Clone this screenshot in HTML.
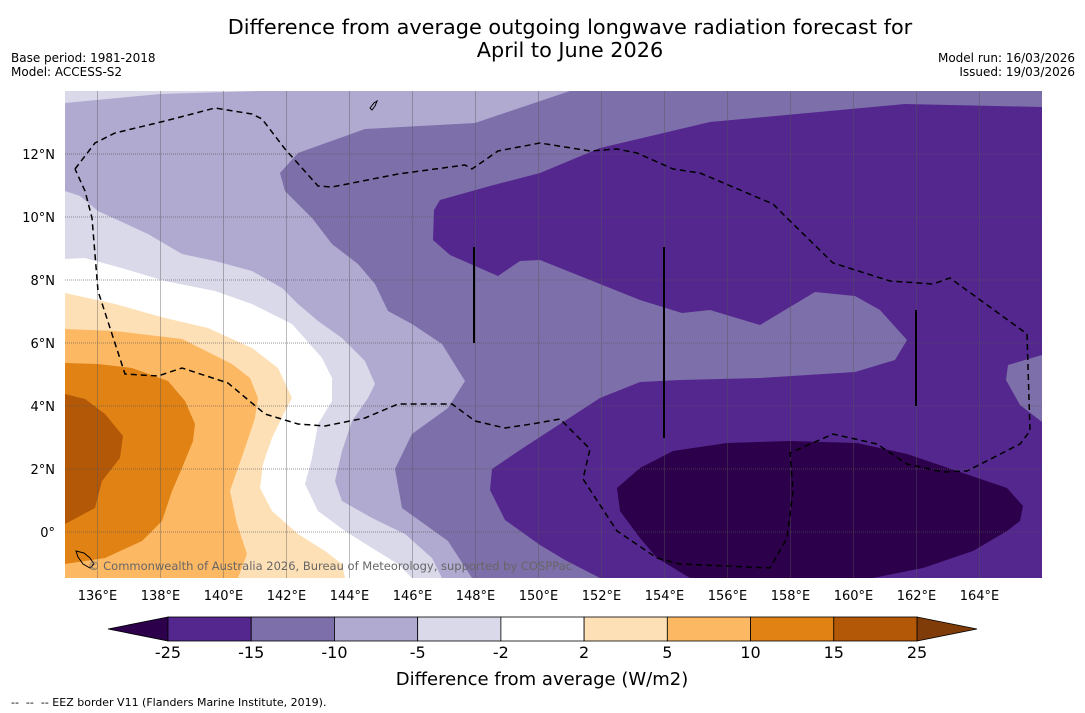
<!DOCTYPE html>
<html><head><meta charset="utf-8"><style>
body{margin:0;background:#fff;font-family:"Liberation Sans","DejaVu Sans",sans-serif;}
svg{display:block}
text{font-family:"DejaVu Sans","Liberation Sans",sans-serif;white-space:pre;}
</style></head><body>
<svg id="fig" width="1085" height="713" viewBox="0 0 1085 713">
<text x="570" y="34" font-size="20.8" text-anchor="middle">Difference from average outgoing longwave radiation forecast for</text>
<text x="570" y="57" font-size="20.8" text-anchor="middle">April to June 2026</text>
<text x="11" y="62" font-size="12">Base period: 1981-2018</text>
<text x="11" y="76" font-size="12">Model: ACCESS-S2</text>
<text x="1075" y="62" font-size="12" text-anchor="end">Model run: 16/03/2026</text>
<text x="1075" y="76" font-size="12" text-anchor="end">Issued: 19/03/2026</text>
<defs><clipPath id="mapclip"><rect x="65" y="91" width="977" height="487"/></clipPath></defs>
<g id="map" clip-path="url(#mapclip)">
<rect x="65" y="91" width="977" height="487" fill="#54278f"/>
<polygon fill="#7d6fa9" points="65,91 1042,91 1042,107 905,104 710,122 600,148 540,173 490,186 440,200 434,210 433,240 450,255 498,276 520,261 540,260 640,300 682,313 710,310 760,325 815,292 855,296 880,310 907,340 895,360 855,372 760,378 680,380 640,382 600,398 540,437 520,450 492,469 490,490 505,520 540,545 565,560 600,578 65,578"/>
<polygon fill="#7d6fa9" points="1042,355 1008,365 1006,380 1020,405 1042,422"/>
<polygon fill="#b0a9d0" points="65,91 570,91 475,123 365,129 298,153 280,173 285,191 312,218 332,244 358,264 375,284 388,311 412,324 442,344 465,381 448,408 412,434 395,469 402,508 448,541 472,578 65,578"/>
<polygon fill="#d9d9ea" points="65,91 260,91 160,94 65,103"/>
<polygon fill="#d9d9ea" points="65,191 80,196 98,211 148,234 182,254 215,261 252,271 282,288 298,304 318,321 342,338 365,361 375,384 368,398 352,421 342,451 335,481 342,501 372,518 405,534 432,558 442,578 65,578"/>
<polygon fill="#ffffff" points="65,259 85,258 125,269 165,281 215,291 252,304 292,324 322,358 332,378 332,401 318,424 312,458 305,484 318,511 345,531 372,548 398,564 412,578 65,578"/>
<polygon fill="#fee0b6" points="65,293 115,304 165,318 208,328 252,348 278,368 292,398 285,411 272,438 263,464 260,488 272,511 298,534 325,551 342,564 345,578 65,578"/>
<polygon fill="#fdb863" points="65,329 115,331 182,339 232,364 250,378 258,398 255,418 245,448 238,468 230,491 237,524 247,554 238,578 65,578"/>
<polygon fill="#e08214" points="65,363 98,364 132,368 168,381 185,401 195,424 193,441 182,468 172,491 162,521 142,541 105,558 65,564"/>
<polygon fill="#b35806" points="65,394 85,399 105,414 123,436 120,458 102,481 95,508 65,524"/>
<polygon fill="#2d004b" points="617,488 640,468 673,451 727,443 790,441 857,443 907,454 957,471 1007,488 1023,506 1020,521 1007,531 973,551 923,568 873,578 690,578 657,558 640,538 620,511"/>
<g id="grid"></g>
<polyline fill="none" stroke="#000" stroke-width="1.5" stroke-dasharray="6,4" points="75,169 95,143 115,133 165,121 215,108 252,114 262,119 285,149 318,186 332,187 398,174 465,165 472,169 498,151 540,143 590,151 617,149 637,153 673,169 700,173 773,204 787,218 833,263 890,281 933,284 950,278 1027,334 1030,431 1020,444 967,471 943,472 907,464 877,444 833,434 790,453 793,491 787,538 770,568 680,564 657,558 617,531 583,479 590,449 560,419 532,424 505,428 475,421 452,404 398,404 365,418 325,426 298,424 265,414 228,383 182,368 158,376 125,374 98,291 92,218 85,191 75,169"/>
<line x1="474" y1="247" x2="474" y2="343" stroke="#000" stroke-width="2"/>
<line x1="664" y1="247" x2="664" y2="438" stroke="#000" stroke-width="2"/>
<line x1="916" y1="310" x2="916" y2="406" stroke="#000" stroke-width="2"/>
<path d="M76,551 l8,2 l6,5 l4,6 l-4,4 l-7,-4 l-5,-7z" fill="none" stroke="#000" stroke-width="1"/>
<path d="M370,108 l4,-5 l3,-2 l-2,5 l-3,4z" fill="none" stroke="#000" stroke-width="1"/>
<text x="88" y="570" font-size="11.5" fill="#666" textLength="484">© Commonwealth of Australia 2026, Bureau of Meteorology, supported by COSPPac</text>
</g>
<g id="axes"></g>
<g id="cbar"></g>
<text x="542" y="685" font-size="18" text-anchor="middle">Difference from average (W/m2)</text>
<text x="11" y="706" font-size="11">--  --  -- EEZ border V11 (Flanders Marine Institute, 2019).</text>
</svg>
<script>
const lonTicks=[136,138,140,142,144,146,148,150,152,154,156,158,160,162,164];
const latTicks=[0,2,4,6,8,10,12];
const cbLevels=[-25,-15,-10,-5,-2,2,5,10,15,25];
const cbColors=["#54278f","#7d6fa9","#b0a9d0","#d9d9ea","#ffffff","#fee0b6","#fdb863","#e08214","#b35806"];
const cbUnder="#2d004b", cbOver="#7f3b08";
const NS="http://www.w3.org/2000/svg";
const X=lon=>66+(lon-135)*31.5;
const Y=lat=>532-lat*31.5;
function mk(tag,attrs,parent){const e=document.createElementNS(NS,tag);for(const k in attrs)e.setAttribute(k,attrs[k]);parent.appendChild(e);return e;}
const grid=document.getElementById('grid'),axes=document.getElementById('axes'),cb=document.getElementById('cbar');
lonTicks.forEach(l=>{
  const g=mk('line',{x1:X(l),x2:X(l),y1:91,y2:578,stroke:'#555','stroke-opacity':0.4,'stroke-width':1},grid);
  
  
  const t=mk('text',{x:X(l),y:600,'font-size':13,'text-anchor':'middle'},axes);
  t.textContent=l+'°E';
  
  
});
mk('line',{x1:X(166),x2:X(166),y1:91,y2:578,stroke:'#555','stroke-opacity':0.4},grid);
latTicks.forEach(l=>{
  const g=mk('line',{x1:65,x2:1042,y1:Y(l),y2:Y(l),stroke:'#555','stroke-opacity':0.6,'stroke-width':1,'stroke-dasharray':'1,1'},grid);
  
  
  const t=mk('text',{x:55,y:Y(l)+5,'font-size':13,'text-anchor':'end'},axes);
  t.textContent=l===0?'0°':l+'°N';
  
  
});
const cx0=168,cw=(917-168)/cbColors.length,cy=617,ch=24;
const ua=mk('polygon',{points:`${cx0},${cy} 108,${cy+ch/2} ${cx0},${cy+ch}`,fill:cbUnder,stroke:'#000','stroke-width':0.8},cb);


const oa=mk('polygon',{points:`917,${cy} 977,${cy+ch/2} 917,${cy+ch}`,fill:cbOver,stroke:'#000','stroke-width':0.8},cb);


cbColors.forEach((c,i)=>{
  const r=mk('rect',{x:cx0+i*cw,y:cy,width:cw,height:ch,fill:c,stroke:'#000','stroke-width':0.8},cb);
  
  
});
cbLevels.forEach((v,i)=>{
  const t=mk('text',{x:cx0+i*cw,y:658,'font-size':16,'text-anchor':'middle'},cb);
  t.textContent=v;
  
  
});
</script>
</body></html>
